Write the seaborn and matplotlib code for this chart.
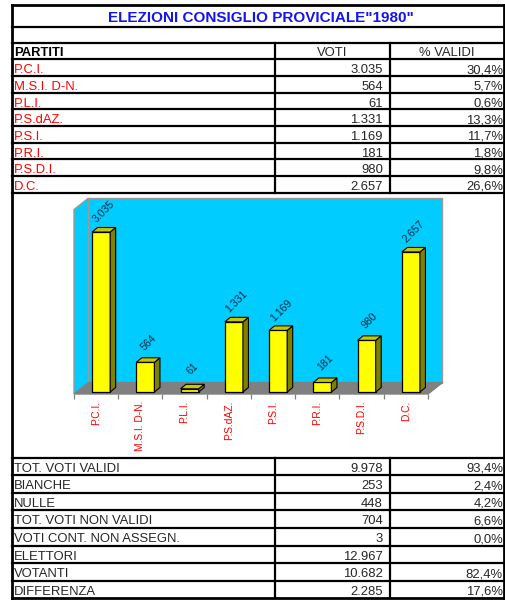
import matplotlib
matplotlib.use('Agg')
import matplotlib.pyplot as plt
import matplotlib.transforms as mtrans
from matplotlib.patches import Polygon
import seaborn as sns

# ---------------- data ----------------
title = 'ELEZIONI CONSIGLIO PROVICIALE"1980"'
header = ['PARTITI', 'VOTI', '% VALIDI']
parties = ['P.C.I.', 'M.S.I. D-N.', 'P.L.I.', 'P.S.dAZ.', 'P.S.I.', 'P.R.I.', 'P.S.D.I.', 'D.C.']
votes = [3035, 564, 61, 1331, 1169, 181, 980, 2657]
pct = [30.4, 5.7, 0.6, 13.3, 11.7, 1.8, 9.8, 26.6]
summary_labels = ['TOT. VOTI VALIDI', 'BIANCHE', 'NULLE', 'TOT. VOTI NON VALIDI',
                  'VOTI CONT. NON ASSEGN.', 'ELETTORI', 'VOTANTI', 'DIFFERENZA']
summary_votes = [9978, 253, 448, 704, 3, 12967, 10682, 2285]
summary_pct = [93.4, 2.4, 4.2, 6.6, 0.0, None, 82.4, 17.6]
y_max = 3500

sns.set_style('white')
plt.rcParams['font.family'] = ['Liberation Sans', 'DejaVu Sans']


def fmt_int(v):
    return f"{v:,}".replace(',', '.')


def fmt_pct(p):
    return '' if p is None else f"{p:.1f}%".replace('.', ',')


W, H = 506, 601
fig = plt.figure(figsize=(W / 100, H / 100), dpi=100)
fig.patch.set_facecolor('white')

# ---------------- table (pixel overlay) ----------------
ax0 = fig.add_axes([0, 0, 1, 1])
ax0.set_xlim(0, W)
ax0.set_ylim(H, 0)
ax0.axis('off')

L, R = 12, 504
C1, C2 = 275, 390
LW = 1.6
top = 5.0
title_b = 26.7
empty_b = 43.3
header_b = 59.3
rh = 16.68
chart_top = header_b + len(parties) * rh
chart_bot = 457.5
srh = 17.6
bottom = chart_bot + len(summary_labels) * srh


def hline(y, w=LW):
    ax0.plot([L, R], [y, y], color='black', lw=w, solid_capstyle='projecting')


def vline(x, y0, y1, w=LW):
    ax0.plot([x, x], [y0, y1], color='black', lw=w, solid_capstyle='projecting')


for y in [title_b, empty_b, header_b, chart_top, chart_bot]:
    hline(y)
for i in range(1, len(parties)):
    hline(header_b + i * rh)
for i in range(1, len(summary_labels)):
    hline(chart_bot + i * srh)
hline(top, 2.0)
hline(bottom, 2.0)
vline(L, top, bottom, 2.0)
vline(R, top, bottom, 2.0)
for x in [C1, C2]:
    vline(x, empty_b, chart_top)
    vline(x, chart_bot, bottom)

FS = 9.4
ax0.text(261, title_b - 5.0, title, ha='center', va='baseline', fontsize=11,
         fontweight='bold', color='#1414F0')
ax0.text(14, header_b - 3.2, header[0], ha='left', va='baseline', fontsize=FS,
         fontweight='bold', color='black')
ax0.text((C1 + C2) / 2, header_b - 3.2, header[1], ha='center', va='baseline', fontsize=FS)
ax0.text((C2 + R) / 2, header_b - 3.2, header[2], ha='center', va='baseline', fontsize=FS)

for i, (p, v, q) in enumerate(zip(parties, votes, pct)):
    yb = header_b + (i + 1) * rh - 2.8
    ax0.text(14, yb, p, ha='left', va='baseline', fontsize=FS, color='#FF0000')
    ax0.text(383, yb, fmt_int(v), ha='right', va='baseline', fontsize=FS)
    ax0.text(503, yb, fmt_pct(q), ha='right', va='baseline', fontsize=FS)

for i, (p, v, q) in enumerate(zip(summary_labels, summary_votes, summary_pct)):
    yb = chart_bot + (i + 1) * srh - 3.4
    ax0.text(14, yb, p, ha='left', va='baseline', fontsize=FS)
    ax0.text(383, yb, fmt_int(v), ha='right', va='baseline', fontsize=FS)
    ax0.text(503, yb, fmt_pct(q), ha='right', va='baseline', fontsize=FS)

# ---------------- 3D-look bar chart ----------------
ax_l, ax_r = 74, 428
ax_base, ax_h = 394, 184.5
ax = fig.add_axes([ax_l / W, (H - ax_base) / H, (ax_r - ax_l) / W, ax_h / H])
ax.patch.set_alpha(0)
n = len(parties)

sns.barplot(x=parties, y=votes, color='#FFFF00', saturation=1, width=0.41,
            edgecolor='black', linewidth=0.9, ax=ax, zorder=3)
bars = list(ax.patches)
ax.set_xlim(-0.5, n - 0.5)
ax.set_ylim(0, y_max)
ax.set_xlabel('')
ax.set_ylabel('')
for s in ax.spines.values():
    s.set_visible(False)

# depth of the box in pixels and in axes fractions
DX, DY = 14.5, 11.5
dxa, dya = DX / (ax_r - ax_l), DY / ax_h
wall_kw = dict(transform=ax.transAxes, clip_on=False, lw=1.0)
ax.add_patch(Polygon([(dxa, dya), (1 + dxa, dya), (1 + dxa, 1 + dya), (dxa, 1 + dya)],
                     closed=True, facecolor='#00CCFF', edgecolor='#9A9A9A', zorder=0.5, **wall_kw))
ax.add_patch(Polygon([(0, 0), (0, 1), (dxa, 1 + dya), (dxa, dya)],
                     closed=True, facecolor='#00CCFF', edgecolor='#9A9A9A', zorder=0.6, **wall_kw))
ax.add_patch(Polygon([(0, 0), (1, 0), (1 + dxa, dya), (dxa, dya)],
                     closed=True, facecolor='#808080', edgecolor='#808080', zorder=0.7, **wall_kw))

# bars sit a little behind the front edge of the floor
bar_tr = ax.transData + mtrans.ScaledTranslation(5 / 100, 2 / 100, fig.dpi_scale_trans)
ppx = (ax_r - ax_l) / n
ppy = ax_h / y_max
bdx, bdy = 5.5 / ppx, 4.5 / ppy
for b, v in zip(bars, votes):
    b.set_transform(bar_tr)
    b.set_clip_on(False)
    x0 = b.get_x()
    x1 = x0 + b.get_width()
    h = b.get_height()
    ax.add_patch(Polygon([(x1, 0), (x1, h), (x1 + bdx, h + bdy), (x1 + bdx, bdy)], closed=True,
                         facecolor='#808000', edgecolor='black', lw=0.8, transform=bar_tr,
                         clip_on=False, zorder=3))
    ax.add_patch(Polygon([(x0, h), (x1, h), (x1 + bdx, h + bdy), (x0 + bdx, h + bdy)], closed=True,
                         facecolor='#C8C800', edgecolor='black', lw=0.8, transform=bar_tr,
                         clip_on=False, zorder=3))
    ax.annotate(fmt_int(v), xy=(x0 + b.get_width() / 2, h), xycoords=bar_tr,
                xytext=(3, 20), textcoords='offset pixels', rotation=45,
                ha='center', va='center', fontsize=7.6, color='#0B2A44', zorder=4,
                annotation_clip=False)

# ticks along the front floor edge
ax.set_xticks(range(n))
ax.set_xticklabels(parties, rotation=90, fontsize=7.4, color='#FF0000')
ax.set_xticks([i - 0.5 for i in range(n + 1)], minor=True)
ax.tick_params(axis='x', which='major', length=0, pad=4.8)
ax.tick_params(axis='x', which='minor', length=3.5, width=0.9, color='#808080', direction='out')
ax.tick_params(axis='x', bottom=True, which='both')
ax.set_yticks([])

fig.savefig('out.png', dpi=100, facecolor='white')
